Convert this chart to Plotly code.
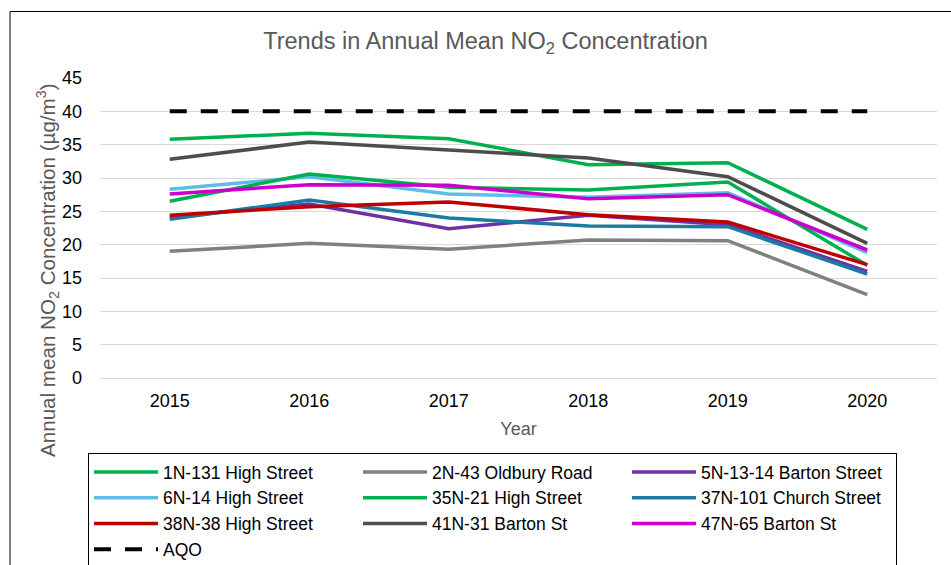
import plotly.graph_objects as go

years = ["2015", "2016", "2017", "2018", "2019", "2020"]

s_1n_131_high = [35.8, 36.7, 35.9, 32.0, 32.3, 22.3]
s_2n_43_oldbury = [19.0, 20.2, 19.3, 20.7, 20.6, 12.5]
s_5n_13_14_barton = [24.1, 26.1, 22.4, 24.4, 23.0, 16.0]
s_6n_14_high = [28.3, 30.2, 27.6, 27.1, 27.8, 18.8]
s_35n_21_high = [26.5, 30.6, 28.6, 28.2, 29.4, 16.9]
s_37n_101_church = [23.8, 26.7, 24.0, 22.8, 22.7, 15.6]
s_38n_38_high = [24.4, 25.7, 26.4, 24.5, 23.4, 17.0]
s_41n_31_barton = [32.8, 35.4, 34.2, 33.0, 30.2, 20.2]
s_47n_65_barton = [27.6, 29.0, 28.9, 26.9, 27.5, 19.2]
aqo = [40, 40, 40, 40, 40, 40]

series = [
    ("1N-131 High Street", s_1n_131_high, "#00B050"),
    ("2N-43 Oldbury Road", s_2n_43_oldbury, "#808080"),
    ("5N-13-14 Barton Street", s_5n_13_14_barton, "#7030A0"),
    ("6N-14 High Street", s_6n_14_high, "#5DBCEA"),
    ("35N-21 High Street", s_35n_21_high, "#00B050"),
    ("37N-101 Church Street", s_37n_101_church, "#1C7BA3"),
    ("38N-38 High Street", s_38n_38_high, "#C00000"),
    ("41N-31 Barton St", s_41n_31_barton, "#4D4D4D"),
    ("47N-65 Barton St", s_47n_65_barton, "#CC00CC"),
]

fig = go.Figure()
for name, vals, col in series:
    fig.add_trace(go.Scatter(x=years, y=vals, name=name, mode="lines",
                             line=dict(color=col, width=3.5)))
fig.add_trace(go.Scatter(x=years, y=aqo, name="AQO", mode="lines",
                         line=dict(color="#000000", width=4, dash="17px,14px")))

FONT = "Liberation Sans, Arial, sans-serif"
W, H = 951, 565
L, R, T, B = 100, 14, 78, 187

fig.update_layout(
    width=W, height=H,
    margin=dict(l=L, r=R, t=T, b=B),
    paper_bgcolor="white", plot_bgcolor="white",
    font=dict(family=FONT, color="#000000", size=18),
    title=dict(text="Trends in Annual Mean NO<sub>2</sub> Concentration",
               font=dict(size=23.5, color="#595959", family=FONT),
               x=485.5 / W, xref="container", xanchor="center",
               y=1 - 41 / H, yref="container", yanchor="middle"),
    xaxis=dict(type="category", range=[-0.5, 5.5], showgrid=False,
               showline=False, zeroline=False, ticks="",
               ticklabelstandoff=10,
               tickfont=dict(size=18, color="#000000"),
               title=dict(text="Year", font=dict(size=18, color="#595959"),
                          standoff=12)),
    yaxis=dict(range=[0, 45], dtick=5, showgrid=True, gridcolor="#D9D9D9",
               gridwidth=1, zeroline=True, zerolinecolor="#D9D9D9",
               zerolinewidth=1, showline=False, ticks="",
               ticklabelstandoff=17,
               tickfont=dict(size=18, color="#000000")),
    legend=dict(orientation="h", xref="container", yref="container",
                x=88 / W, y=1 - 453 / H, xanchor="left", yanchor="top",
                bordercolor="#000000", borderwidth=1,
                entrywidth=190, itemwidth=64,
                font=dict(size=17.5, color="#000000", family=FONT),
                traceorder="normal"),
    showlegend=True,
    annotations=[dict(text="Annual mean NO<sub>2</sub> Concentration (µg/m<sup>3</sup>)",
                      xref="paper", yref="paper",
                      x=(47 - L) / (W - L - R), y=(H - B - 270) / (H - T - B),
                      xanchor="center", yanchor="middle", textangle=-90,
                      showarrow=False,
                      font=dict(size=20.6, color="#595959", family=FONT))],
    shapes=[dict(type="rect", xref="paper", yref="paper",
                 x0=(10 - L) / (W - L - R), x1=1.2,
                 y0=-0.8, y1=(H - B - 11.5) / (H - T - B),
                 line=dict(color="#000000", width=1), fillcolor="rgba(0,0,0,0)",
                 layer="below")],
)

fig.write_html("out.html", config={"displayModeBar": False},
               post_script="document.body.style.margin='0';document.body.style.overflow='hidden';")
